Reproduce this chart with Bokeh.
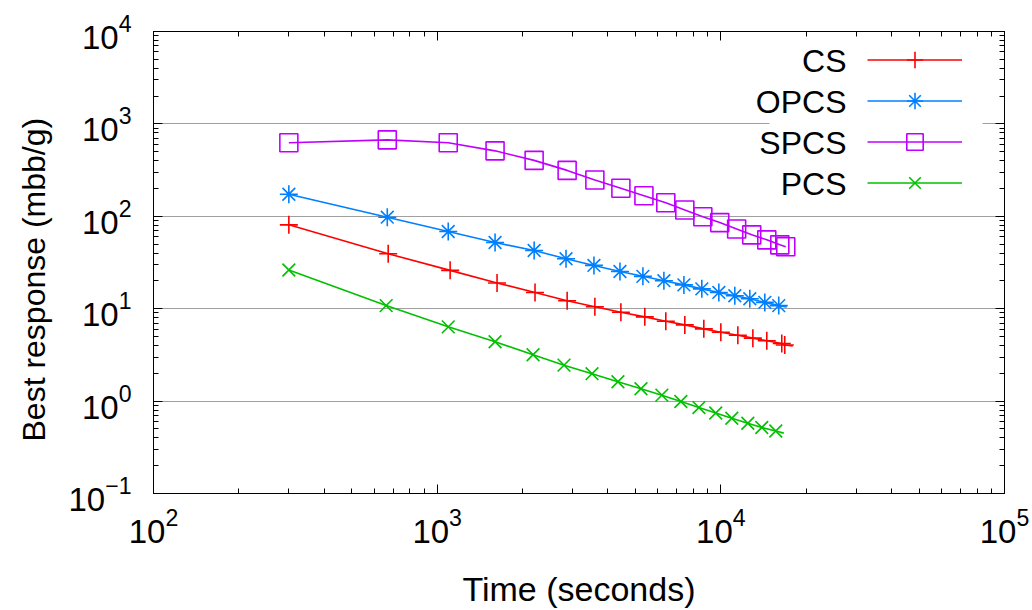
from bokeh.plotting import figure
from bokeh.models import (Legend, LegendItem, Label, BoxAnnotation, LogAxis, Title,
                          CustomJSTickFormatter)
from bokeh.embed import file_html
from bokeh.resources import INLINE

# ---- data ----
series_names = ["CS", "OPCS", "SPCS", "PCS"]

cs_time = [300, 672, 1111, 1626, 2213, 2872, 3597, 4443, 5395, 6398, 7465, 8710,
           10000, 11480, 12970, 14520, 16400, 16800, 17930]
cs_val = [80.8, 39.3, 26.0, 19.0, 15.0, 12.2, 10.5, 9.15, 8.16, 7.31, 6.68, 6.05,
          5.56, 5.16, 4.80, 4.50, 4.20, 4.05, 3.95]

opcs_time = [300, 667, 1094, 1600, 2197, 2846, 3570, 4409, 5312, 6299, 7410, 8570,
             9840, 11200, 12650, 14290, 16000, 17070]
opcs_val = [173, 97.8, 68.4, 52.0, 42.7, 34.7, 29.4, 25.3, 22.4, 20.1, 18.1, 16.4,
            15.0, 13.8, 12.8, 11.7, 10.8, 10.45]

spcs_time = [300, 667, 1094, 1600, 2197, 2872, 3597, 4443, 5357, 6398, 7465, 8641,
             9913, 11370, 12850, 14520, 16140, 16940]
spcs_val = [624, 672, 624, 511, 403, 314, 247, 201, 167, 140, 117, 99,
            85.5, 73, 63, 55.6, 49.1, 46.8]

pcs_time = [300, 661, 1094, 1600, 2178, 2800, 3515, 4338, 5230, 6197, 7229, 8370,
            9595, 10930, 12450, 13940, 15620, 16670]
pcs_val = [26.2, 10.8, 6.36, 4.39, 3.17, 2.45, 1.98, 1.62, 1.36, 1.16, 0.99, 0.851,
           0.744, 0.652, 0.576, 0.518, 0.475, 0.45]

x_title = "Time (seconds)"
y_title = "Best response (mbb/g)"

FONT = "Liberation Sans"

p = figure(width=1032, height=610, x_axis_type="log", y_axis_type="log",
           x_range=(1e2, 1e5), y_range=(1e-1, 1e4),
           output_backend="svg", toolbar_location=None,
           min_border_left=152, min_border_right=28, min_border_top=31, min_border_bottom=115,
           x_axis_label=x_title)

p.outline_line_color = "black"
p.outline_line_width = 1
p.xgrid.visible = False
p.ygrid.grid_line_color = "#a0a0a0"
p.ygrid.grid_line_width = 1

for ax in (p.xaxis[0], p.yaxis[0]):
    ax.major_tick_in = 9
    ax.major_tick_out = 0
    ax.minor_tick_in = 5
    ax.minor_tick_out = 0
    ax.axis_line_color = "black"
    ax.major_tick_line_color = "black"
    ax.minor_tick_line_color = "black"
    ax.major_label_text_font = FONT
    ax.major_label_text_font_size = "33px"
    ax.major_label_text_color = "black"
    ax.axis_label_text_font = FONT
    ax.axis_label_text_font_size = "34px"
    ax.axis_label_text_font_style = "normal"
    ax.axis_label_text_color = "black"

p.xaxis[0].major_label_standoff = 14
p.xaxis[0].axis_label_standoff = 24
p.yaxis[0].major_label_standoff = 22

# y title as a side title, shifted along the axis like gnuplot's
p.add_layout(Title(text=y_title, align="left", offset=52, standoff=27,
                   text_font=FONT, text_font_size="32px", text_font_style="normal",
                   text_color="black"), "left")

# mirrored tick marks on top and right (no labels)
blank = CustomJSTickFormatter(code="return ''")
for side, tk in (("above", p.xaxis[0].ticker), ("right", p.yaxis[0].ticker)):
    ax = LogAxis(ticker=tk, formatter=blank, major_tick_in=9, major_tick_out=0,
                 minor_tick_in=5, minor_tick_out=0, major_label_text_font_size="1px",
                 major_label_standoff=0, axis_line_color="black")
    p.add_layout(ax, side)

# white box behind legend (hides gridline like gnuplot key)
p.add_layout(BoxAnnotation(left=616, right=829, bottom=290, top=455,
                           left_units="screen", right_units="screen",
                           bottom_units="screen", top_units="screen",
                           fill_color="white", fill_alpha=1, line_color=None))

styles = [
    ("CS", cs_time, cs_val, "#ff0000", "cross", True),
    ("OPCS", opcs_time, opcs_val, "#0080ff", "asterisk", True),
    ("SPCS", spcs_time, spcs_val, "#c000ff", "square", False),
    ("PCS", pcs_time, pcs_val, "#00c000", "x", True),
]

items = []
for name, t, v, col, mk, skip_last in styles:
    rl = p.line(t, v, line_color=col, line_width=1.6)
    tt, vv = (t[:-1], v[:-1]) if skip_last else (t, v)
    rm = p.scatter(tt, vv, marker=mk, size=18, line_color=col, line_width=1.6,
                   fill_color=None)
    items.append(LegendItem(label=" ", renderers=[rl, rm]))

legend = Legend(items=items, location=(714, 290), orientation="vertical",
                glyph_width=95, glyph_height=41, spacing=0, padding=0, margin=0,
                label_standoff=0, label_width=1, label_height=10,
                label_text_font_size="10px", border_line_color=None,
                background_fill_alpha=0)
p.add_layout(legend)

row_y = [433, 392, 351, 310]
for name, yy in zip(series_names, row_y):
    p.add_layout(Label(x=693, y=yy, x_units="screen", y_units="screen", text=name,
                       text_align="right", text_baseline="middle",
                       text_font=FONT, text_font_size="32px", text_color="black"))

open("out.html", "w").write(file_html(p, INLINE))
